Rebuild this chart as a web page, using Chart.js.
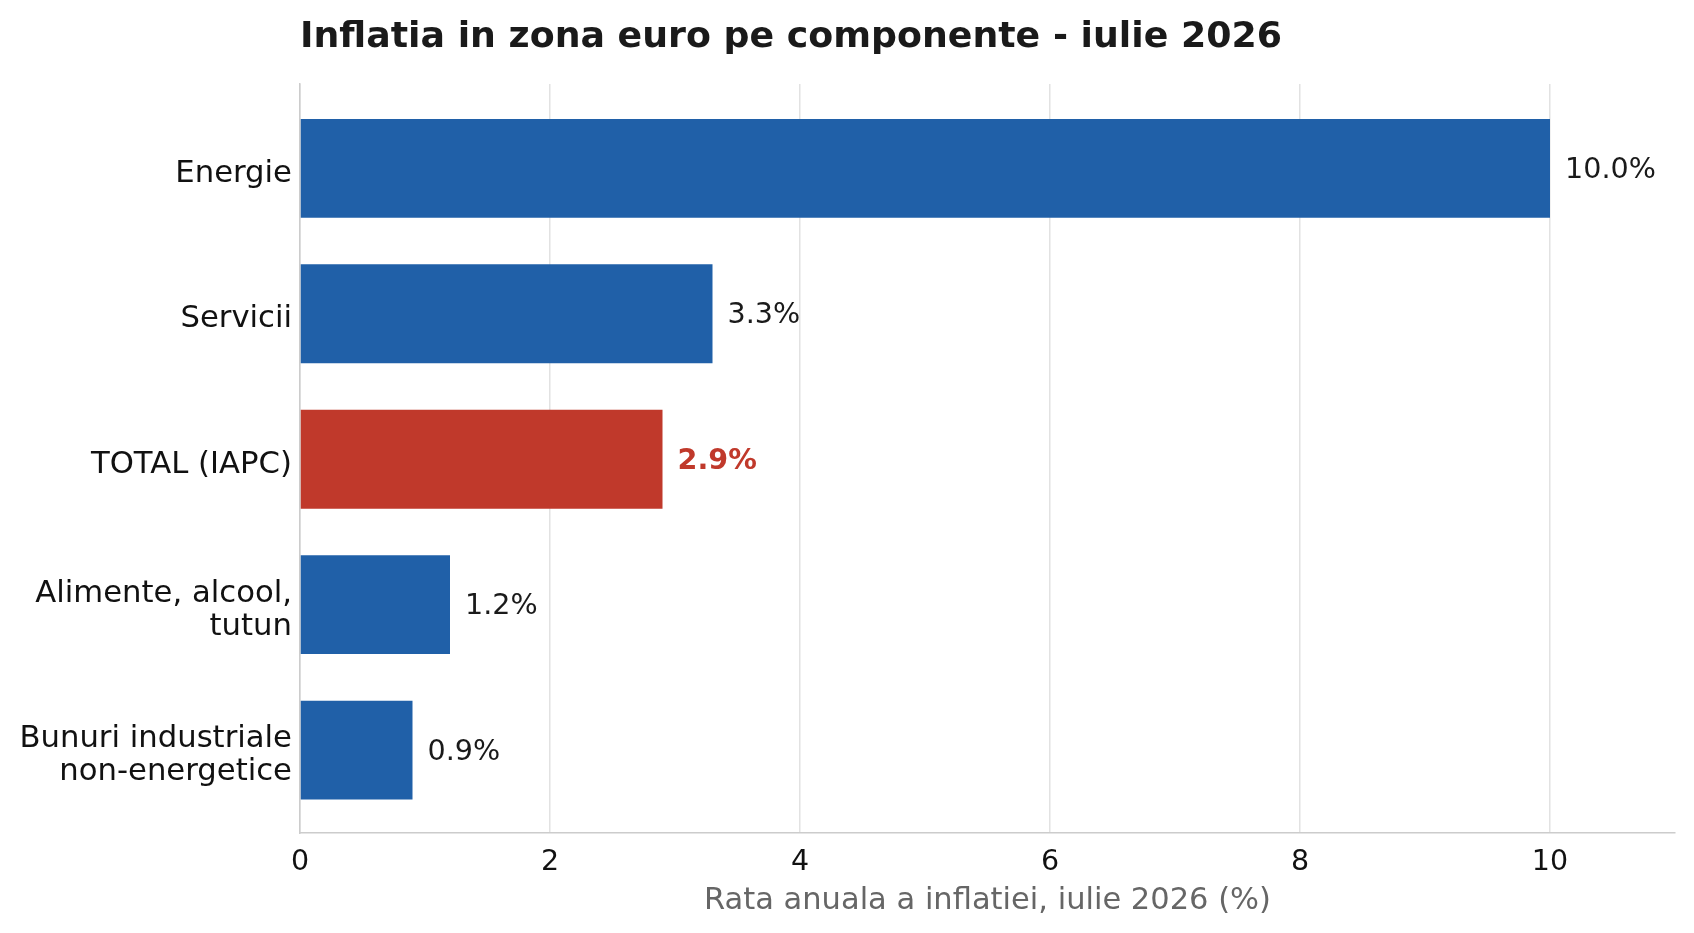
<!DOCTYPE html>
<html>
<head>
<meta charset="utf-8">
<script src="https://cdn.jsdelivr.net/npm/chart.js@4/dist/chart.umd.min.js"></script>
<style>
  body { margin: 0; background: #ffffff; }
  #wrap { width: 1694px; height: 933px; }
</style>
</head>
<body>
<div id="wrap"><canvas id="inflChart" width="1694" height="933"></canvas></div>
<script>
    const categories = ['Energie', 'Servicii', 'TOTAL (IAPC)', ['Alimente, alcool,', 'tutun'], ['Bunuri industriale', 'non-energetice']];
    const rates = [10.0, 3.3, 2.9, 1.2, 0.9];
    const xTicks = [0, 2, 4, 6, 8, 10];

    const barBlue = '#2060a8';
    const totalRed = '#c0392b';
    const fontFam = '"DejaVu Sans", sans-serif';

    const barColors = categories.map(c => c === 'TOTAL (IAPC)' ? totalRed : barBlue);

    // title drawn above the plot, aligned with the left of the axes
    const titlePlugin = {
        id: 'leftTitle',
        afterDraw(chart) {
            const ctx = chart.ctx;
            ctx.save();
            ctx.font = 'bold 36.3px ' + fontFam;
            ctx.fillStyle = '#1a1a1a';
            ctx.textAlign = 'left';
            ctx.textBaseline = 'alphabetic';
            ctx.fillText('Inflatia in zona euro pe componente - iulie 2026', chart.chartArea.left, 47);
            ctx.restore();
        }
    };

    // value labels at the end of each bar
    const valueLabels = {
        id: 'valueLabels',
        afterDatasetsDraw(chart) {
            const ctx = chart.ctx;
            const meta = chart.getDatasetMeta(0);
            ctx.save();
            ctx.textAlign = 'left';
            ctx.textBaseline = 'middle';
            meta.data.forEach((bar, i) => {
                const isTotal = categories[i] === 'TOTAL (IAPC)';
                ctx.font = (isTotal ? 'bold ' : '') + '28.6px ' + fontFam;
                ctx.fillStyle = isTotal ? totalRed : '#1a1a1a';
                ctx.fillText(rates[i].toFixed(1) + '%', bar.x + 15, bar.y + 2);
            });
            ctx.restore();
        }
    };

    const ctx = document.getElementById('inflChart').getContext('2d');
    new Chart(ctx, {
        type: 'bar',
        data: {
            datasets: [{
                data: rates.map((v, i) => ({ x: v, y: i })),
                backgroundColor: barColors,
                borderWidth: 0,
                barPercentage: 0.68,
                categoryPercentage: 1.0
            }]
        },
        options: {
            indexAxis: 'y',
            responsive: false,
            animation: false,
            devicePixelRatio: 1,
            layout: { padding: { top: 84, right: 19, left: 0, bottom: 0 } },
            scales: {
                x: {
                    type: 'linear',
                    min: 0,
                    max: 11,
                    afterBuildTicks: (scale) => { scale.ticks = xTicks.map(v => ({ value: v })); },
                    afterFit: (scale) => { scale.height = 100; },
                    ticks: { color: '#111111', font: { family: fontFam, size: 28.5 }, padding: 12 },
                    grid: { color: '#e2e2e2', lineWidth: 1.5, drawTicks: false },
                    border: { color: '#cccccc', width: 1.5 },
                    title: {
                        display: true,
                        text: 'Rata anuala a inflatiei, iulie 2026 (%)',
                        color: '#666666',
                        font: { family: fontFam, size: 30.5 },
                        padding: { top: 0, bottom: 14 }
                    }
                },
                y: {
                    type: 'linear',
                    reverse: true,
                    offset: false,
                    min: -0.58,
                    max: 4.57,
                    afterBuildTicks: (scale) => { scale.ticks = categories.map((c, i) => ({ value: i })); },
                    afterFit: (scale) => { scale.width = 300; },
                    ticks: {
                        color: '#111111',
                        font: { family: fontFam, size: 30.7, lineHeight: 1.07 },
                        padding: 8,
                        labelOffset: 5.5,
                        callback: (v) => categories[v]
                    },
                    grid: { display: false, drawTicks: false, offset: false },
                    border: { color: '#cccccc', width: 1.5 }
                }
            },
            plugins: {
                legend: { display: false },
                tooltip: { enabled: false }
            }
        },
        plugins: [titlePlugin, valueLabels]
    });
</script>
</body>
</html>
